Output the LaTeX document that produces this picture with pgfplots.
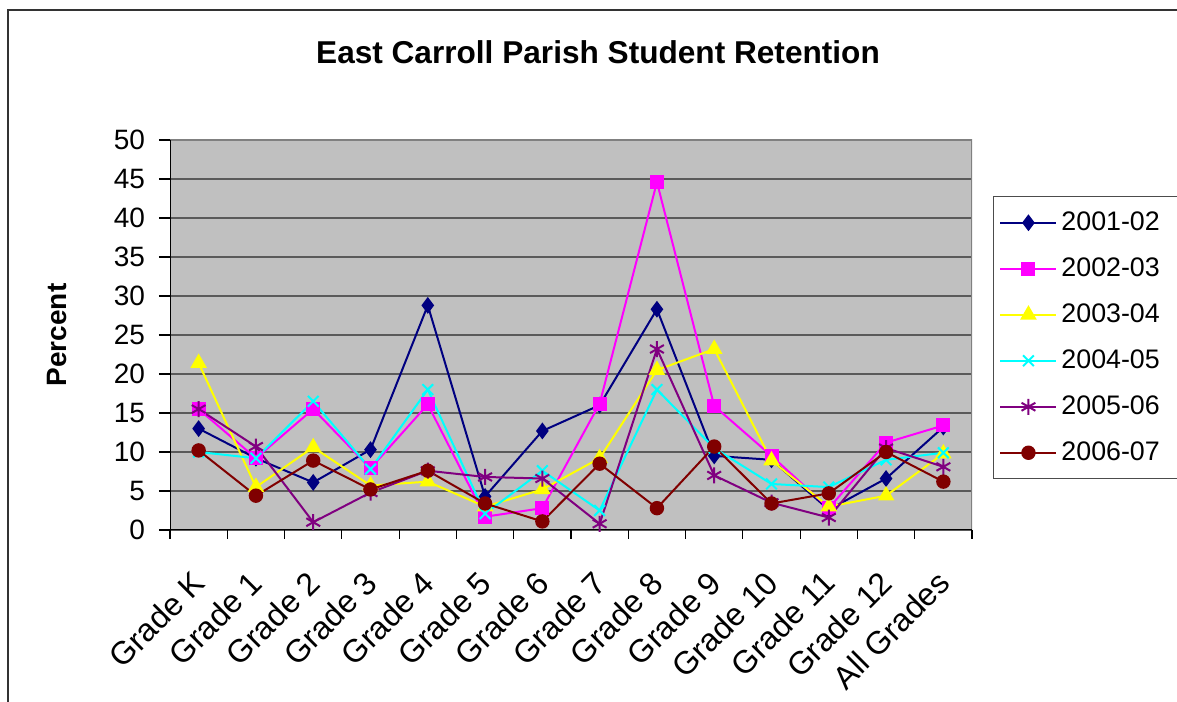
\documentclass[border=0pt]{standalone}
\usepackage{fontspec}
\setmainfont{Liberation Sans}
\usepackage{pgfplots}
\usepackage{pgfplotstable}
\pgfplotsset{compat=1.18}
\definecolor{c1}{HTML}{000080}
\definecolor{c2}{HTML}{FF00FF}
\definecolor{c3}{HTML}{FFFF00}
\definecolor{c4}{HTML}{00FFFF}
\definecolor{c5}{HTML}{800080}
\definecolor{c6}{HTML}{800000}
\definecolor{plotbg}{HTML}{C0C0C0}
\definecolor{gridc}{HTML}{5A5A5A}
\pgfplotstableread{
x   a     b     c     d     e     f
0   13.0  15.5  21.4  10.0  15.5  10.2
1   9.2   9.2   5.5   9.2   10.7  4.4
2   6.1   15.5  10.6  16.5  1.0   8.9
3   10.3  7.9   5.7   7.8   4.8   5.2
4   28.8  16.1  6.2   18.0  7.6   7.6
5   4.3   1.7   3.0   2.1   6.8   3.4
6   12.7  2.8   5.2   7.6   6.6   1.1
7   16.0  16.2  9.2   2.5   0.8   8.5
8   28.3  44.6  20.5  18.0  23.2  2.8
9   9.5   15.9  23.2  10.5  7.0   10.7
10  9.0   9.5   8.9   5.9   3.5   3.4
11  2.6   2.8   3.0   5.5   1.6   4.7
12  6.6   11.2  4.4   9.0   10.5  10.0
13  13.2  13.4  9.8   9.9   8.1   6.2
}\datatable
\begin{document}
\begin{tikzpicture}[x=1pt,y=1pt]
\path[use as bounding box] (0,0) rectangle (588.5,350.5);
\draw[line width=1pt, black!80] (4,-20) -- (4,345.5) -- (620,345.5);
\node[font=\bfseries\fontsize{15.8}{19}\selectfont] at (299,324.5) {East Carroll Parish Student Retention};
\node[rotate=90, font=\bfseries\fontsize{14}{17}\selectfont] at (28.5,183) {Percent};
\begin{axis}[
  at={(85pt,85.5pt)}, anchor=south west,
  scale only axis, width=401pt, height=195pt,
  xmin=-0.5, xmax=13.5, ymin=0, ymax=50,
  ytick={0,5,...,50},
  xtick={0,...,13},
  xticklabels={Grade K,Grade 1,Grade 2,Grade 3,Grade 4,Grade 5,Grade 6,Grade 7,Grade 8,Grade 9,Grade 10,Grade 11,Grade 12,All Grades},
  minor xtick={-0.5,0.5,...,13.5},
  xtick pos=bottom, ytick pos=left,
  x tick style={draw=none},
  minor x tick style={draw=black, line width=0.6pt},
  y tick style={draw=black, line width=0.6pt},
  tick align=outside,
  major tick length=5.5pt,
  minor tick length=4.5pt,
  axis line style={draw=none},
  axis background/.style={fill=plotbg},
  ymajorgrids,
  major grid style={draw=gridc, line width=0.65pt},
  /pgf/number format/assume math mode=true,
  yticklabel style={font=\fontsize{14}{16}\selectfont, xshift=-3.5pt},
  xticklabel style={font=\fontsize{16}{18}\selectfont, xshift=-4pt, yshift=-9pt, rotate=45, anchor=north east},
  every axis plot/.append style={line width=1pt},
  legend style={at={(1.026,0.856)}, anchor=north west, draw=gray!60!black, line width=0.6pt,
    font=\fontsize{13.4}{16}\selectfont, inner xsep=3pt, inner ysep=1.5pt,
    nodes={inner ysep=0pt, inner xsep=2pt, minimum height=23pt, text width=60pt}},
  legend cell align=left,
  legend image code/.code={\draw[mark repeat=2,mark phase=2] plot coordinates {(0pt,0pt) (14pt,0pt) (28pt,0pt)};},
]
\draw[gray, line width=1pt] (rel axis cs:0,0) rectangle (rel axis cs:1,1);
\draw[black, line width=1pt] (rel axis cs:0,1) -- (rel axis cs:0,0) -- (rel axis cs:1,0);
\addplot[c1, mark=diamond*, mark size=3.4pt, mark options={solid, fill=c1}] table[x=x, y=a] {\datatable};
\addlegendentry{2001-02}
\addplot[c2, mark=square*, mark size=3pt, mark options={solid, fill=c2}] table[x=x, y=b] {\datatable};
\addlegendentry{2002-03}
\addplot[c3, mark=triangle*, mark size=3.8pt, mark options={solid, fill=c3}] table[x=x, y=c] {\datatable};
\addlegendentry{2003-04}
\addplot[c4, mark=x, mark size=3.8pt, mark options={solid}] table[x=x, y=d] {\datatable};
\addlegendentry{2004-05}
\addplot[c5, mark=asterisk, mark size=4pt, mark options={solid}] table[x=x, y=e] {\datatable};
\addlegendentry{2005-06}
\addplot[c6, mark=*, mark size=3.1pt, mark options={solid, fill=c6}] table[x=x, y=f] {\datatable};
\addlegendentry{2006-07}
\end{axis}
\end{tikzpicture}
\end{document}
